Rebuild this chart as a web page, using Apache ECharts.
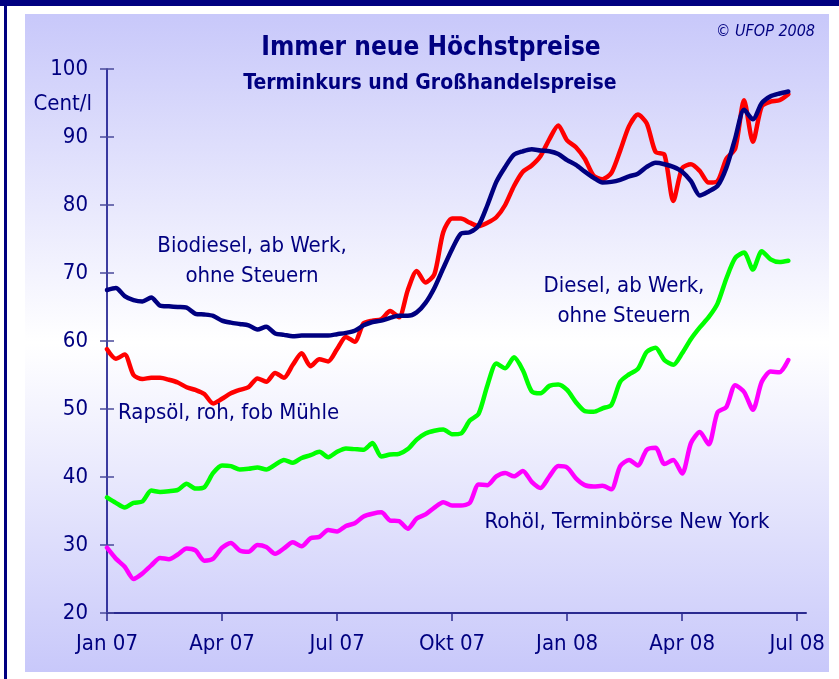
<html>
<head>
<meta charset="utf-8">
<title>Immer neue Höchstpreise</title>
<style>
  html, body { margin: 0; padding: 0; background: #fff; }
  #chart { width: 839px; height: 679px; }
</style>
<script src="https://cdn.jsdelivr.net/npm/echarts@6/dist/echarts.min.js"></script>
</head>
<body>
<div id="chart"></div>
<script>
// weekly prices in Cent/l, week 0 = first week of Jan 2007
var biodiesel = [67.5, 67.8, 66.6, 66.0, 65.8, 66.4, 65.2, 65.1, 65.0, 64.9,
    64.0, 63.9, 63.7, 63.0, 62.7, 62.5, 62.3, 61.7, 62.1, 61.1,
    60.9, 60.7, 60.8, 60.8, 60.8, 60.8, 61.0, 61.2, 61.5, 62.3,
    62.8, 63.0, 63.4, 63.7, 63.7, 64.2, 65.6, 67.8, 70.7, 73.5,
    75.8, 76.0, 77.0, 80.0, 83.4, 85.6, 87.4, 87.9, 88.2, 88.0,
    87.9, 87.5, 86.6, 85.9, 84.9, 84.0, 83.3, 83.4, 83.7, 84.2,
    84.6, 85.6, 86.2, 86.0, 85.6, 84.9, 83.5, 81.4, 82.0, 82.8,
    85.5, 89.8, 94.0, 92.6, 95.0, 96.0, 96.4, 96.7];
var rapsoel = [58.8, 57.4, 58.0, 55.0, 54.4, 54.6, 54.6, 54.3, 53.9, 53.2,
    52.8, 52.2, 50.8, 51.5, 52.3, 52.8, 53.2, 54.5, 54.0, 55.3,
    54.6, 56.5, 58.2, 56.3, 57.3, 57.0, 58.8, 60.6, 59.9, 62.6,
    63.0, 63.2, 64.4, 63.5, 67.5, 70.3, 68.6, 69.8, 76.0, 78.0,
    78.0, 77.4, 76.9, 77.4, 78.2, 80.0, 82.8, 84.9, 85.8, 87.2,
    89.7, 91.7, 89.5, 88.5, 86.8, 84.3, 83.8, 84.7, 88.0, 91.6,
    93.3, 92.0, 87.8, 87.4, 80.6, 85.4, 86.0, 85.0, 83.3, 83.5,
    86.8, 88.3, 95.4, 89.3, 94.5, 95.2, 95.4, 96.3];
var diesel = [37.0, 36.2, 35.5, 36.2, 36.4, 38.0, 37.8, 37.9, 38.1, 39.0,
    38.3, 38.5, 40.6, 41.7, 41.6, 41.1, 41.2, 41.4, 41.1, 41.8,
    42.5, 42.1, 42.8, 43.2, 43.7, 42.9, 43.7, 44.2, 44.1, 44.0,
    45.0, 43.0, 43.3, 43.4, 44.1, 45.5, 46.4, 46.8, 47.0, 46.3,
    46.4, 48.3, 49.3, 53.5, 56.7, 56.0, 57.6, 55.7, 52.6, 52.3,
    53.4, 53.6, 52.8, 51.0, 49.7, 49.6, 50.1, 50.6, 54.0, 55.1,
    55.9, 58.4, 59.0, 57.2, 56.5, 58.2, 60.3, 62.0, 63.5, 65.5,
    69.2, 72.2, 73.0, 70.5, 73.2, 72.0, 71.6, 71.8];
var rohoel = [29.6, 28.0, 26.8, 25.0, 25.8, 27.0, 28.1, 27.9, 28.6, 29.5,
    29.2, 27.7, 28.0, 29.6, 30.3, 29.2, 29.0, 30.0, 29.7, 28.7,
    29.5, 30.4, 29.8, 31.0, 31.2, 32.2, 32.0, 32.8, 33.2, 34.2,
    34.6, 34.8, 33.6, 33.5, 32.4, 33.9, 34.5, 35.5, 36.3, 35.8,
    35.8, 36.2, 38.9, 38.8, 40.1, 40.6, 40.1, 40.9, 39.3, 38.4,
    40.1, 41.6, 41.4, 39.8, 38.8, 38.6, 38.7, 38.2, 41.6, 42.5,
    41.7, 44.0, 44.3, 41.9, 42.5, 40.5, 45.0, 46.6, 44.8, 49.5,
    50.3, 53.5, 52.5, 49.9, 54.0, 55.5, 55.4, 57.2];

var xTickWeeks = [0, 13, 26, 39, 52, 65, 78];
var xTickLabels = ['Jan 07', 'Apr 07', 'Jul 07', 'Okt 07', 'Jan 08', 'Apr 08', 'Jul 08'];

var navy = '#000080';
var font = "'DejaVu Sans Condensed', 'DejaVu Sans', sans-serif";

function toPoints(values) {
    return values.map(function (v, i) { return [i, v]; });
}

function lineSeries(name, values, color) {
    return {
        name: name,
        type: 'line',
        data: toPoints(values),
        showSymbol: false,
        smooth: 0.25,
        lineStyle: { color: color, width: 4.5, cap: 'round', join: 'round' },
        emphasis: { disabled: true },
        animation: false
    };
}

function label(text, x, y, size, opts) {
    opts = opts || {};
    return {
        type: 'text',
        z: 100,
        style: {
            text: text,
            x: x,
            y: y,
            align: opts.align || 'center',
            verticalAlign: 'middle',
            font: (opts.style || '') + ' ' + (opts.weight || 'normal') + ' ' + size + 'px ' + font,
            fill: navy
        }
    };
}

var chart = echarts.init(document.getElementById('chart'));
chart.setOption({
    backgroundColor: '#ffffff',
    animation: false,
    grid: { left: 107, right: 33, top: 69, bottom: 66 },
    xAxis: {
        type: 'value',
        min: 0,
        max: 79,
        axisLine: { lineStyle: { color: '#2a2a90', width: 2 } },
        axisTick: { customValues: xTickWeeks, length: 8, lineStyle: { color: '#2a2a90', width: 1.5 } },
        axisLabel: {
            customValues: xTickWeeks,
            margin: 20,
            color: navy,
            fontSize: 22,
            fontFamily: font,
            formatter: function (v) { return xTickLabels[xTickWeeks.indexOf(v)]; }
        },
        splitLine: { show: false }
    },
    yAxis: [{
        type: 'value',
        min: 20,
        max: 100,
        interval: 10,
        axisLine: { show: true, lineStyle: { color: navy, width: 1.5 } },
        axisTick: { show: true, length: 7, lineStyle: { color: '#4a4a9a', width: 1.5 } },
        axisLabel: { margin: 19, color: navy, fontSize: 22, fontFamily: font },
        splitLine: { show: false }
    }, {
        type: 'value',
        position: 'left',
        min: 20,
        max: 100,
        interval: 10,
        axisLine: { show: false },
        axisTick: { show: true, inside: true, length: 7, lineStyle: { color: '#4a4a9a', width: 1.5 } },
        axisLabel: { show: false },
        splitLine: { show: false }
    }],
    graphic: [
        {
            type: 'rect',
            z: -10,
            silent: true,
            shape: { x: 25, y: 14, width: 804, height: 658 },
            style: {
                fill: new echarts.graphic.LinearGradient(0, 0, 0, 1, [
                    { offset: 0, color: '#c8c8fa' },
                    { offset: 0.5, color: '#ffffff' },
                    { offset: 1, color: '#c8c8fa' }
                ])
            }
        },
        { type: 'rect', z: -5, shape: { x: 0, y: 0, width: 839, height: 6 }, style: { fill: navy } },
        { type: 'rect', z: -5, shape: { x: 4, y: 0, width: 3, height: 679 }, style: { fill: navy } },
        label('Immer neue Höchstpreise', 431, 48, 26, { weight: 'bold' }),
        label('Terminkurs und Großhandelspreise', 430, 84, 21, { weight: 'bold' }),
        label('© UFOP 2008', 815, 32, 16, { align: 'right', style: 'italic' }),
        label('Cent/l', 92, 104, 22, { align: 'right' }),
        label('Biodiesel, ab Werk,', 252, 246, 22),
        label('ohne Steuern', 252, 276, 22),
        label('Rapsöl, roh, fob Mühle', 118, 413, 22, { align: 'left' }),
        label('Diesel, ab Werk,', 624, 286, 22),
        label('ohne Steuern', 624, 316, 22),
        label('Rohöl, Terminbörse New York', 627, 522, 22)
    ],
    series: [
        lineSeries('Diesel, ab Werk, ohne Steuern', diesel, '#00ff00'),
        lineSeries('Rohöl, Terminbörse New York', rohoel, '#ff00ff'),
        lineSeries('Rapsöl, roh, fob Mühle', rapsoel, '#ff0000'),
        lineSeries('Biodiesel, ab Werk, ohne Steuern', biodiesel, '#000080')
    ]
});
</script>
</body>
</html>
